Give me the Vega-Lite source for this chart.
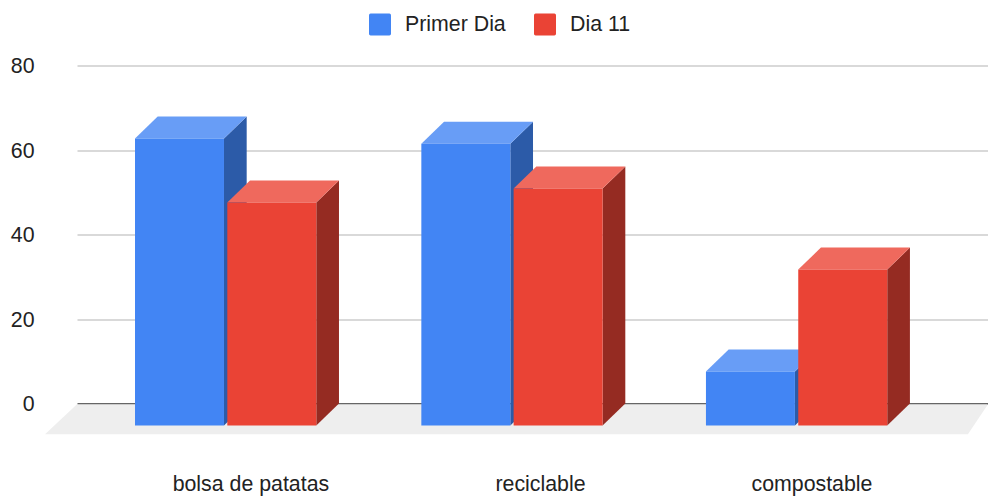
{
  "$schema": "https://vega.github.io/schema/vega-lite/v6.json",
  "width": 911,
  "height": 338,
  "autosize": {"type": "none"},
  "padding": {"left": 77, "top": 65.5, "right": 0, "bottom": 93.5},
  "background": "#ffffff",
  "config": {"view": {"stroke": null}, "font": "Liberation Sans"},
  "params": [
    {"name": "barW", "value": 0.3117},
    {"name": "redShift", "value": 0.3233},
    {"name": "depthX", "value": 0.0795},
    {"name": "depthY", "value": 5.207}
  ],
  "layer": [
    {
      "data": {"values": [
        {"level": -0.2, "from": -0.2032, "to": 2.988},
        {"level": -7.3, "from": -0.3152, "to": 2.9177}
      ]},
      "mark": {"type": "area", "orient": "horizontal", "color": "#eeeeee"},
      "encoding": {
        "y": {
          "field": "level",
          "type": "quantitative",
          "scale": {"domain": [0, 80], "nice": false, "zero": false},
          "axis": {
            "title": null,
            "values": [0, 20, 40, 60, 80],
            "domain": false,
            "ticks": false,
            "labelPadding": 43,
            "labelOffset": 1,
            "labelFontSize": 21.33,
            "labelColor": "#222222",
            "labelFont": "Liberation Sans",
            "grid": true,
            "gridColor": {"condition": {"test": "datum.value === 0", "value": "#333333"}, "value": "#cccccc"},
            "gridWidth": {"condition": {"test": "datum.value === 0", "value": 1.5}, "value": 1.3}
          }
        },
        "x": {
          "field": "from",
          "type": "quantitative",
          "scale": {"domain": [-0.2032, 2.988], "nice": false, "zero": false},
          "axis": null
        },
        "x2": {"field": "to"}
      }
    },
    {
      "data": {"values": [
        {"category": "bolsa de patatas", "series": "Primer Dia", "value": 67.9},
        {"category": "bolsa de patatas", "series": "Dia 11", "value": 52.8},
        {"category": "reciclable", "series": "Primer Dia", "value": 66.7},
        {"category": "reciclable", "series": "Dia 11", "value": 56.1},
        {"category": "compostable", "series": "Primer Dia", "value": 12.8},
        {"category": "compostable", "series": "Dia 11", "value": 36.9}
      ]},
      "transform": [
        {"calculate": "{'bolsa de patatas': 0, 'reciclable': 1.003, 'compostable': 2}[datum.category] + (datum.series === 'Dia 11' ? redShift : 0)", "as": "left"},
        {"calculate": "datum.left + barW", "as": "right"},
        {"calculate": "datum.value - depthY", "as": "frontTop"},
        {"calculate": "-depthY", "as": "frontBase"},
        {"calculate": "[0, 1]", "as": "edge"},
        {"flatten": ["edge"]},
        {"calculate": "datum.right + datum.edge * depthX", "as": "sideX"},
        {"calculate": "datum.frontTop + datum.edge * depthY", "as": "sideTop"},
        {"calculate": "datum.frontBase + datum.edge * depthY", "as": "sideBase"},
        {"calculate": "datum.left + datum.edge * depthX", "as": "capLeft"},
        {"calculate": "datum.right + datum.edge * depthX", "as": "capRight"}
      ],
      "layer": [
        {
          "mark": {"type": "area", "orient": "vertical"},
          "encoding": {
            "x": {"field": "sideX", "type": "quantitative", "scale": {"domain": [-0.2032, 2.988], "nice": false, "zero": false}, "axis": null},
            "y": {"field": "sideTop", "type": "quantitative", "scale": {"domain": [0, 80], "nice": false, "zero": false}},
            "y2": {"field": "sideBase"},
            "detail": [{"field": "category"}, {"field": "series"}],
            "fill": {"condition": {"test": "datum.series === 'Dia 11'", "value": "#952b22"}, "value": "#2c5ba8"}
          }
        },
        {
          "mark": {"type": "area", "orient": "horizontal"},
          "encoding": {
            "y": {"field": "sideTop", "type": "quantitative", "scale": {"domain": [0, 80], "nice": false, "zero": false}},
            "x": {"field": "capLeft", "type": "quantitative", "scale": {"domain": [-0.2032, 2.988], "nice": false, "zero": false}, "axis": null},
            "x2": {"field": "capRight"},
            "detail": [{"field": "category"}, {"field": "series"}],
            "fill": {"condition": {"test": "datum.series === 'Dia 11'", "value": "#ef695d"}, "value": "#689df6"}
          }
        },
        {
          "transform": [{"filter": "datum.edge === 0"}],
          "mark": {"type": "rect"},
          "encoding": {
            "x": {"field": "left", "type": "quantitative", "scale": {"domain": [-0.2032, 2.988], "nice": false, "zero": false}, "axis": null},
            "x2": {"field": "right"},
            "y": {"field": "frontTop", "type": "quantitative", "scale": {"domain": [0, 80], "nice": false, "zero": false}},
            "y2": {"field": "frontBase"},
            "fill": {
              "field": "series",
              "type": "nominal",
              "scale": {"domain": ["Primer Dia", "Dia 11"], "range": ["#4285f4", "#ea4335"]},
              "legend": {
                "title": null,
                "orient": "none",
                "direction": "horizontal",
                "legendX": 292,
                "legendY": -52,
                "symbolType": "M-0.85,-1H0.85Q1,-1 1,-0.85V0.85Q1,1 0.85,1H-0.85Q-1,1 -1,0.85V-0.85Q-1,-1 -0.85,-1Z",
                "symbolSize": 484,
                "symbolStrokeWidth": 0,
                "labelFontSize": 21.33,
                "labelColor": "#222222",
                "labelFont": "Liberation Sans",
                "labelOffset": 14,
                "columnPadding": 28
              }
            }
          }
        }
      ]
    },
    {
      "data": {"values": [
        {"category": "bolsa de patatas"},
        {"category": "reciclable"},
        {"category": "compostable"}
      ]},
      "transform": [
        {"calculate": "{'bolsa de patatas': 0.406, 'reciclable': 1.4203, 'compostable': 2.3713}[datum.category]", "as": "labelAt"}
      ],
      "mark": {"type": "text", "fontSize": 21.33, "color": "#222222", "font": "Liberation Sans", "align": "center", "baseline": "middle"},
      "encoding": {
        "x": {"field": "labelAt", "type": "quantitative", "scale": {"domain": [-0.2032, 2.988], "nice": false, "zero": false}, "axis": null},
        "y": {"datum": -19.4, "scale": {"domain": [0, 80], "nice": false, "zero": false}},
        "text": {"field": "category"}
      }
    }
  ]
}
